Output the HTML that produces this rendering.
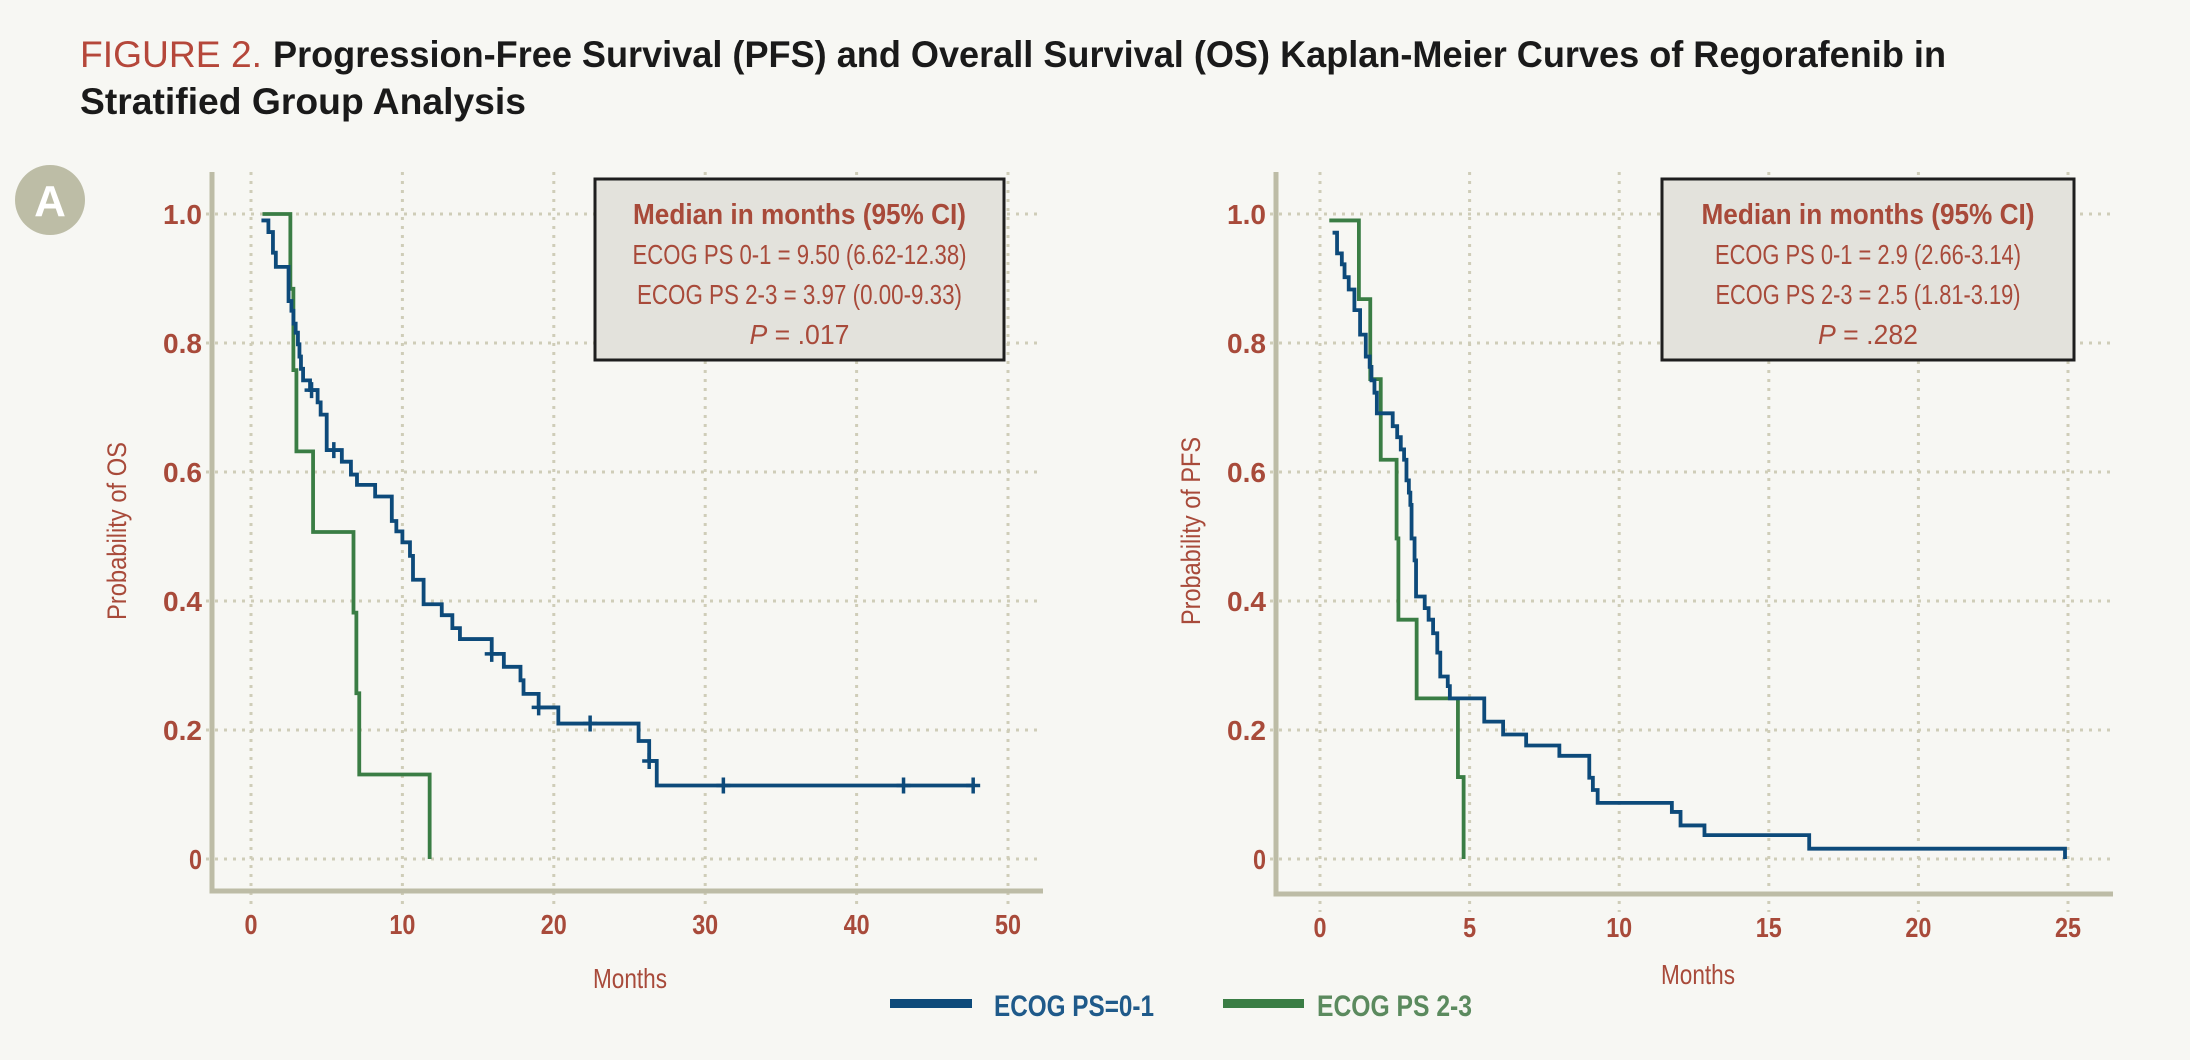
<!DOCTYPE html>
<html><head><meta charset="utf-8"><style>
html,body{margin:0;padding:0;background:#f7f7f3;}
svg{display:block;}
text{font-family:"Liberation Sans Narrow","Liberation Sans",sans-serif;}
</style></head><body>
<svg id="fig" width="2190" height="1060" viewBox="0 0 2190 1060" xmlns="http://www.w3.org/2000/svg">
<rect width="2190" height="1060" fill="#f7f7f3"/>
<text x="80" y="67" font-size="37" fill="#b5473a" textLength="182" lengthAdjust="spacingAndGlyphs">FIGURE 2.</text>
<text x="273" y="67" font-size="37" font-weight="bold" fill="#1a1a1a" textLength="1673" lengthAdjust="spacingAndGlyphs">Progression-Free Survival (PFS) and Overall Survival (OS) Kaplan-Meier Curves of Regorafenib in</text>
<text x="80" y="114" font-size="37" font-weight="bold" fill="#1a1a1a" textLength="446" lengthAdjust="spacingAndGlyphs">Stratified Group Analysis</text>
<g>
<circle cx="50" cy="200" r="35" fill="#bdbda6"/>
<text x="50" y="216" font-size="44" font-weight="bold" fill="#fff" text-anchor="middle">A</text>
</g>
<g id="chartOS"></g>
<g id="chartPFS"></g>
<g>
<g>
<rect x="890" y="999" width="82" height="9" fill="#0d4a7a"/>
<text x="994" y="1016" font-size="30" font-weight="bold" fill="#1f5a8a" textLength="160" lengthAdjust="spacingAndGlyphs">ECOG PS=0-1</text>
</g>
<g>
<rect x="1223" y="999" width="81" height="9" fill="#3a7d44"/>
<text x="1317" y="1016" font-size="30" font-weight="bold" fill="#5b8a5e" textLength="155" lengthAdjust="spacingAndGlyphs">ECOG PS 2-3</text>
</g>
</g>
</svg>
<script>
// OS data
const osBlueT = [0.69,1.15,1.45,1.64,2.48,2.67,2.8,2.95,3.1,3.2,3.3,3.44,3.9,4.4,4.6,5.0,6.0,6.6,7.0,8.2,9.3,9.6,10.0,10.5,10.7,11.4,12.6,13.3,13.8,15.9,16.7,17.8,18.0,19.0,20.3,25.6,26.3,26.8,47.7];
const osBlueS = [0.99,0.972,0.94,0.918,0.865,0.85,0.83,0.816,0.798,0.779,0.76,0.742,0.727,0.708,0.689,0.634,0.616,0.596,0.58,0.562,0.524,0.508,0.491,0.47,0.433,0.395,0.378,0.358,0.341,0.318,0.298,0.277,0.256,0.235,0.21,0.183,0.152,0.114,0.114];
const osBlueCens = [4.0,5.47,15.9,19.0,22.4,26.3,31.2,43.1,47.7];
const osGreenT = [0.76,2.6,2.8,3.0,4.1,6.77,6.96,7.15,11.8];
const osGreenS = [1.0,0.884,0.758,0.632,0.507,0.382,0.257,0.131,0.0];
const osXTicks = [0,10,20,30,40,50];
// PFS data
const pfsBlueT = [0.42,0.57,0.73,0.82,0.96,1.15,1.34,1.53,1.66,1.72,1.82,1.9,2.43,2.58,2.7,2.81,2.89,2.97,3.02,3.06,3.16,3.21,3.5,3.63,3.78,3.92,4.02,4.27,4.34,5.49,6.12,6.89,8.0,9.0,9.12,9.28,11.76,12.05,12.85,16.35,24.9];
const pfsBlueS = [0.971,0.939,0.922,0.902,0.883,0.851,0.813,0.779,0.763,0.742,0.723,0.691,0.671,0.654,0.635,0.619,0.587,0.568,0.549,0.497,0.463,0.407,0.389,0.371,0.35,0.32,0.283,0.268,0.249,0.213,0.193,0.176,0.16,0.126,0.107,0.087,0.073,0.052,0.037,0.016,0.0];
const pfsGreenT = [0.31,1.3,1.68,2.03,2.56,2.62,3.23,4.61,4.8];
const pfsGreenS = [0.99,0.868,0.744,0.619,0.497,0.371,0.249,0.127,0.0];
const pfsXTicks = [0,5,10,15,20,25];
const yTicks = [0,0.2,0.4,0.6,0.8,1.0];
const yTickLabels = ["0","0.2","0.4","0.6","0.8","1.0"];

const NS = "http://www.w3.org/2000/svg";
function mk(tag, attrs, parent){const e=document.createElementNS(NS,tag);for(const k in attrs)e.setAttribute(k,attrs[k]);parent.appendChild(e);return e;}

function drawChart(g, cfg){
  const xs = v => cfg.x0 + (v - 0) / cfg.xmax * (cfg.xEnd - cfg.x0);
  const ys = v => cfg.y0 - v * (cfg.y0 - cfg.y1);
  cfg.xticks.forEach(t=>{
    const l = mk('line',{x1:xs(t),x2:xs(t),y1:cfg.top,y2:cfg.axisY+18,stroke:'#cfcdb8','stroke-width':3,'stroke-dasharray':'3 6'},g);
    
    
    const s = String(t);
    const tx = mk('text',{x:xs(t),y:cfg.axisY+43,'font-size':28,'font-weight':'bold',fill:'#a84a3a','text-anchor':'middle',textLength:s.length*13,lengthAdjust:'spacingAndGlyphs'},g);
    tx.textContent = s;
    
    
  });
  yTicks.forEach((t,i)=>{
    const l = mk('line',{x1:cfg.axisX-6,x2:cfg.right,y1:ys(t),y2:ys(t),stroke:'#cfcdb8','stroke-width':3,'stroke-dasharray':'3 6'},g);
    
    
    const s = yTickLabels[i];
    const tx = mk('text',{x:cfg.axisX-10,y:ys(t)+10,'font-size':28,'font-weight':'bold',fill:'#a84a3a','text-anchor':'end',textLength:s.length*13,lengthAdjust:'spacingAndGlyphs'},g);
    tx.textContent = s;
    
    
  });
  const ax = mk('path',{d:`M${cfg.axisX} ${cfg.top} V${cfg.axisY} H${cfg.right}`,fill:'none',stroke:'#bdbca6','stroke-width':5},g);
  
  
  const bx = mk('rect',{x:cfg.box[0],y:cfg.box[1],width:cfg.box[2],height:cfg.box[3],fill:'#e3e2dc',stroke:'#1e1e1e','stroke-width':3},g);
  
  
  const cx = cfg.box[0]+cfg.box[2]/2;
  cfg.boxLines.forEach((s,i)=>{
    const t = mk('text',{x:cx,y:cfg.box[1]+45+i*40,'font-size':i==0?29:28,'font-weight':i==0?'bold':'normal',fill:'#a84a3a','text-anchor':'middle',textLength:cfg.boxW[i],lengthAdjust:'spacingAndGlyphs'},g);
    if(i==3){const it=mk('tspan',{'font-style':'italic'},t);it.textContent='P';const r=mk('tspan',{},t);r.textContent=s;}
    else t.textContent=s;
    
    
  });
  function step(T,S,color,w,name){
    let d=`M${xs(T[0])} ${ys(S[0])}`;
    for(let i=1;i<T.length;i++){d+=` H${xs(T[i])} V${ys(S[i])}`;}
    const p = mk('path',{d:d,fill:'none',stroke:color,'stroke-width':w},g);
    
    
    return v=>{let s=S[0];for(let i=0;i<T.length;i++){if(T[i]<=v)s=S[i];}return s;};
  }
  step(cfg.gT,cfg.gS,'#3a7d44',3.8,'curve-ecog-2-3');
  const f = step(cfg.bT,cfg.bS,'#0d4a7a',3.8,'curve-ecog-0-1');
  (cfg.cens||[]).forEach(c=>{
    const x=xs(c), y=ys(f(c));
    const m = mk('path',{d:`M${x-7} ${y} H${x+7} M${x} ${y-8} V${y+8}`,stroke:'#0d4a7a','stroke-width':3.5},g);
    
    
  });
  const xl = mk('text',{x:cfg.xLabel[0],y:cfg.xLabel[1],'font-size':28,fill:'#a84a3a','text-anchor':'middle',textLength:cfg.xLabelW,lengthAdjust:'spacingAndGlyphs'},g);
  xl.textContent='Months';
  
  
  const yl = mk('text',{x:0,y:0,'font-size':27,fill:'#a84a3a','text-anchor':'middle',transform:`translate(${cfg.yLabel[0]},${cfg.yLabel[1]}) rotate(-90)`,textLength:cfg.yLabelW,lengthAdjust:'spacingAndGlyphs'},g);
  yl.textContent=cfg.yTitle;
  
  
}

drawChart(document.getElementById('chartOS'),{
  x0:251,xEnd:1008,xmax:50,y0:859,y1:214,top:172,axisX:212,axisY:891,right:1043,
  xticks:osXTicks,box:[595,179,409,181],
  boxLines:['Median in months (95% CI)','ECOG PS 0-1 = 9.50 (6.62-12.38)','ECOG PS 2-3 = 3.97 (0.00-9.33)',' = .017'],
  boxW:[333,334,325,100],
  bT:osBlueT,bS:osBlueS,gT:osGreenT,gS:osGreenS,cens:osBlueCens,
  xLabel:[630,988],xLabelW:74,yLabel:[126,531],yLabelW:178,yTitle:'Probability of OS'
});
drawChart(document.getElementById('chartPFS'),{
  x0:1320,xEnd:2068,xmax:25,y0:859,y1:214,top:172,axisX:1276,axisY:894,right:2113,
  xticks:pfsXTicks,box:[1662,179,412,181],
  boxLines:['Median in months (95% CI)','ECOG PS 0-1 = 2.9 (2.66-3.14)','ECOG PS 2-3 = 2.5 (1.81-3.19)',' = .282'],
  boxW:[333,306,305,100],
  bT:pfsBlueT,bS:pfsBlueS,gT:pfsGreenT,gS:pfsGreenS,cens:[],
  xLabel:[1698,984],xLabelW:74,yLabel:[1200,531],yLabelW:188,yTitle:'Probability of PFS'
});
</script>
</body></html>
